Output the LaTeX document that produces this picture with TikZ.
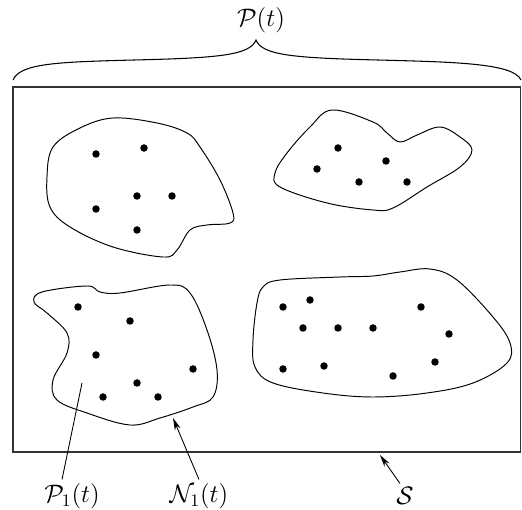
\documentclass[tikz,border=0pt]{standalone}
\usetikzlibrary{arrows.meta, positioning, calc}
\begin{document}
\begin{tikzpicture}[
  x=0.02cm, y=-0.02cm,
  region/.style={draw, line width=0.55pt, smooth cycle, tension=0.6},
  member/.style={fill=black},
  lbl/.style={font=\fontsize{14.5}{17}\selectfont, inner sep=2pt},
  pointer/.style={-{Stealth[length=7pt, width=3.5pt]}, line width=0.5pt},
  frame/.style={draw=black!80, line width=0.7pt}
]
  \useasboundingbox (0,0) rectangle (522,510);

  % the space S
  \draw[frame] (13,87) rectangle (520.5,452);

  % brace with P(t)
  \node[lbl] (plbl) at (261,20) {$\mathcal{P}(t)$};
  \draw[line width=0.6pt] (13,80) .. controls (20,63) and (60,62) .. (134,60)
    .. controls (220,58) and (250,55) .. (256,40)
    .. controls (262,55) and (292,58) .. (378,60)
    .. controls (452,62) and (514,63) .. (521,80);

  % top-left group
  \draw[region] plot coordinates {(113,118) (157,123) (187,133) (200,147) (220,180)
    (233,213) (230,223) (207,225) (190,230) (177,250) (163,257) (113,247)
    (70,227) (50,207) (47,177) (53,147) (80,128)};
  \foreach \x/\y in {96/154, 144/148, 137/196, 172/196, 96/209, 137/230}
    \fill[member] (\x,\y) circle[radius=0.075cm];

  % top-right group
  \draw[region] plot coordinates {(332,110) (373,122) (387,133) (400,142) (417,135)
    (440,127) (460,137) (472,150) (460,167) (427,187) (393,208) (373,210)
    (327,203) (280,187) (275,173) (287,153) (310,127)};
  \foreach \x/\y in {338/148, 317/169, 386/161, 359/182, 407/182}
    \fill[member] (\x,\y) circle[radius=0.075cm];

  % bottom-left group P_1(t)
  \draw[region] plot coordinates {(42,292) (87,286) (100,292) (120,293) (170,285)
    (190,293) (207,330) (217,370) (213,397) (193,407) (160,418) (130,425)
    (87,413) (57,400) (53,380) (67,353) (67,333) (47,313) (34,302)};
  \foreach \x/\y in {78/307, 130/321, 96/355, 193/369, 137/383, 103/397, 158/397}
    \fill[member] (\x,\y) circle[radius=0.075cm];

  % bottom-right group
  \draw[region] plot coordinates {(280,280) (340,277) (373,276) (400,272) (430,269)
    (457,280) (493,317) (510,343) (507,363) (473,383) (427,393) (373,397)
    (323,393) (273,383) (255,367) (253,340) (257,303) (263,287)};
  \foreach \x/\y in {283/307, 310/300, 421/307, 303/328, 338/328, 373/328,
                     449/334, 283/369, 324/366, 435/362, 393/376}
    \fill[member] (\x,\y) circle[radius=0.075cm];

  % labels below
  \node[lbl] (p1lbl) at (72,496) {$\mathcal{P}_1(t)$};
  \node[lbl] (n1lbl) at (199,496) {$\mathcal{N}_1(t)$};
  \node[lbl] (slbl) at (405,496) {$\mathcal{S}$};
  \coordinate (p1end) at (82,383);
  \coordinate (n1end) at (173,418);
  \coordinate (send) at (380,455);
  \draw[line width=0.5pt] ([xshift=-0.2cm]p1lbl.north) -- (p1end);
  \draw[pointer] (n1lbl.north) -- (n1end);
  \draw[pointer] ([xshift=-0.1cm]slbl.north) -- (send);
\end{tikzpicture}
\end{document}
